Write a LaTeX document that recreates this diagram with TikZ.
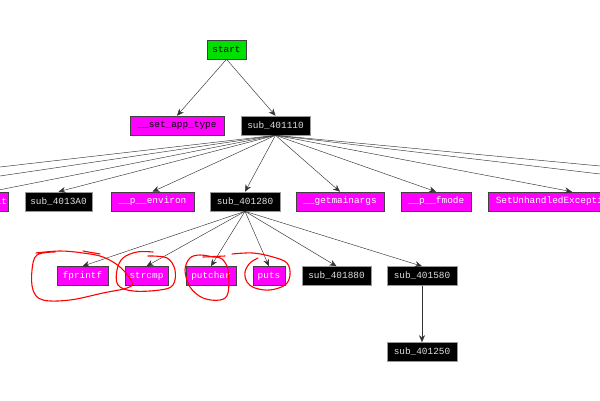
\documentclass[tikz,border=0pt]{standalone}
\usepackage{fontspec}
\setmonofont{Liberation Mono}
\usetikzlibrary{arrows.meta}
\definecolor{mag}{HTML}{FF00FF}
\definecolor{grn}{HTML}{00E000}
\tikzset{
  fn/.style={draw=black!75, line width=0.6pt, minimum height=19pt, inner xsep=1pt, inner ysep=0pt,
    font=\ttfamily\fontsize{9.4}{10}\selectfont, anchor=center},
  libfn/.style={fn, fill=mag, text=white},
  subfn/.style={fn, fill=black, draw=black!40, text=black!12},
  startfn/.style={fn, fill=grn, text=black},
  call/.style={draw=black!80, line width=0.45pt, -{Stealth[length=7pt,width=6pt]}},
  offcall/.style={draw=black!80, line width=0.45pt},
  redmark/.style={draw=red, line width=1.1pt, line cap=round, line join=round}
}
\begin{document}
\begin{tikzpicture}[x=1pt,y=-1pt]
\useasboundingbox (0,0) rectangle (600,400);
\fill[white] (0,0) rectangle (600,400);
\clip (0,0) rectangle (600,400);

\node[startfn, minimum width=39pt] (start) at (226.5,49.5) {start};
\node[libfn, text=black, minimum width=94pt] (setapp) at (177,125.5) {\_\_set\_app\_type};
\node[subfn, minimum width=69pt] (s110) at (275.5,125.5) {sub\_401110};

\node[libfn, inner xsep=1.5pt] (cexit) at (-10,201.5) {\_cexit};
\node[subfn, minimum width=67pt] (s3a0) at (58.5,201.5) {sub\_4013A0};
\node[libfn, minimum width=83pt] (penv) at (152.5,201.5) {\_\_p\_\_environ};
\node[subfn, minimum width=70pt] (s280) at (245,201.5) {sub\_401280};
\node[libfn, minimum width=88pt] (gma) at (340,201.5) {\_\_getmainargs};
\node[libfn, minimum width=70pt] (pfm) at (436,201.5) {\_\_p\_\_fmode};
\node[libfn, minimum width=168pt] (sue) at (572,201.5) {SetUnhandledExceptionFilter};

\node[libfn, minimum width=51pt] (fpr) at (82.5,276) {fprintf};
\node[libfn, minimum width=43pt] (scmp) at (146.5,276) {strcmp};
\node[libfn, minimum width=50pt] (pch) at (211,276) {putchar};
\node[libfn, minimum width=32pt] (puts) at (269,276) {puts};
\node[subfn, minimum width=69pt] (s880) at (336.5,276) {sub\_401880};
\node[subfn, minimum width=70pt] (s580) at (422,276) {sub\_401580};
\node[subfn, minimum width=70pt] (s250) at (422,352) {sub\_401250};

\coordinate (offL1) at (0,167);
\coordinate (offL2) at (0,176);
\coordinate (offR1) at (600,166);
\coordinate (offR2) at (600,174);

\draw[call] (start.south) -- (setapp.north);
\draw[call] (start.south) -- (s110.north);

\draw[offcall] (s110.south) -- (offL1);
\draw[offcall] (s110.south) -- (offL2);
\draw[offcall] (s110.south) -- (offR1);
\draw[offcall] (s110.south) -- (offR2);
\foreach \t in {cexit,s3a0,penv,s280,gma,pfm,sue}
  \draw[call] (s110.south) -- (\t.north);

\foreach \t in {fpr,scmp,pch,puts,s880,s580}
  \draw[call] (s280.south) -- (\t.north);
\draw[call] (s580.south) -- (s250.north);

% hand-drawn red marks
\draw[redmark] plot[smooth, tension=0.6] coordinates {(36,253) (60,251) (83,253) (103,257) (120,267) (132,282) (127,288) (103,293) (70,300) (43,300) (33,290) (32,270) (37,255) (55,252)};
\draw[redmark] (83,251) -- (100,254);
\draw[redmark] plot[smooth, tension=0.6] coordinates {(148,256) (167,258) (175,270) (173,285) (160,290) (133,291) (118,285) (117,270) (123,258) (137,252) (153,252)};
\draw[redmark] (203,257) -- (225,256);
\draw[redmark] plot[smooth, tension=0.6] coordinates {(213,257) (222,259) (228,270) (228,293) (220,300) (203,298) (190,287) (185,270) (190,258) (200,255) (213,257)};
\draw[redmark] plot[smooth, tension=0.6] coordinates {(232,254) (253,253) (273,257) (287,263) (290,275) (285,285) (270,290) (255,288) (247,282) (245,272) (250,263) (258,258)};
\end{tikzpicture}
\end{document}
